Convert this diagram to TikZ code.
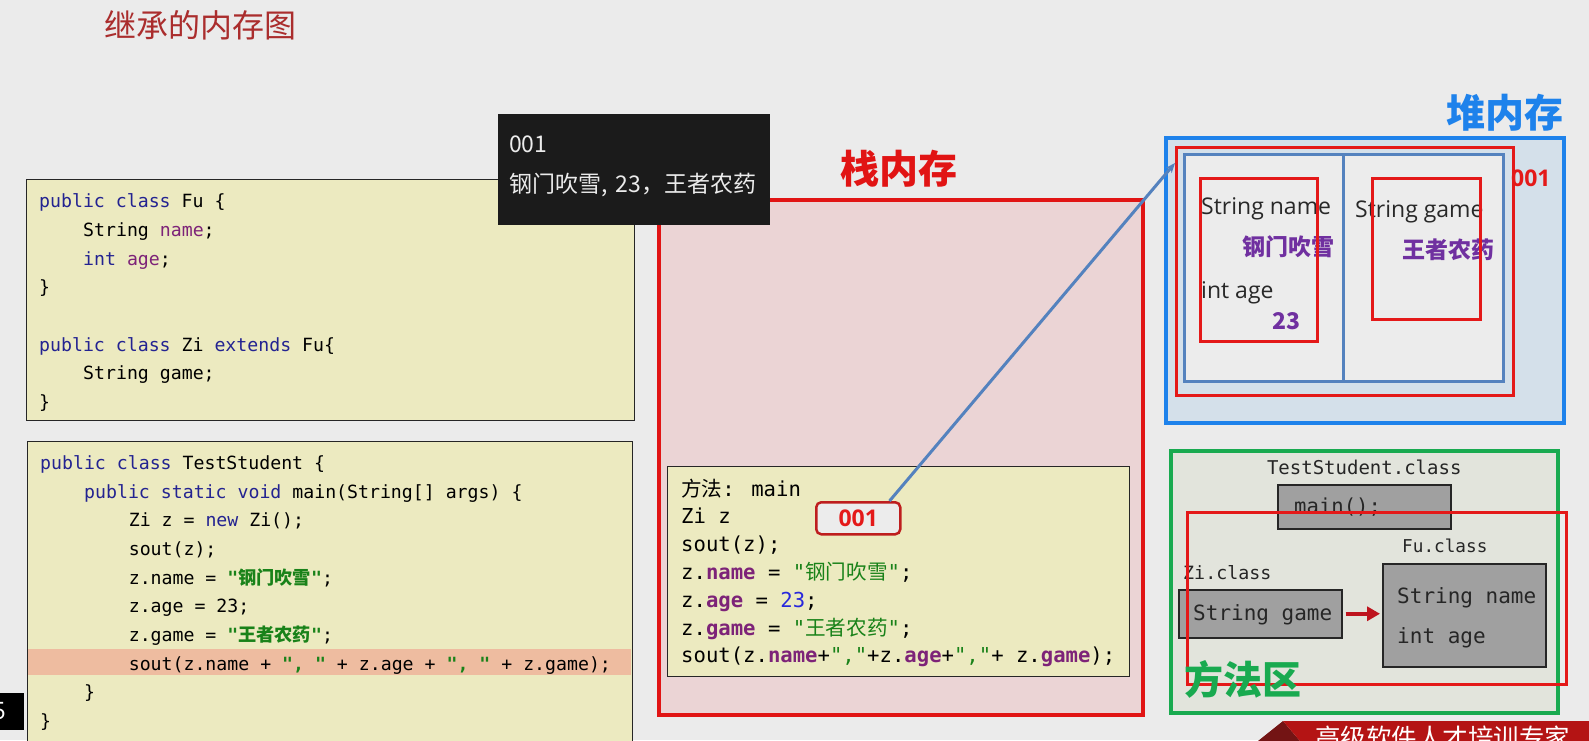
\documentclass[tikz,border=0pt]{standalone}
\usepackage{fontspec}
\usepackage{xcolor}
\usepackage{tikz}
\usetikzlibrary{
  positioning,
  arrows.meta,
  calc
}
\setmainfont{Open Sans}
\newfontfamily\cnfont{Noto Sans CJK SC}
\newfontfamily\codefont{DejaVu Sans Mono}
\newfontfamily\uifont{Open Sans}
\definecolor{pagebg}{RGB}{235,235,235}
\definecolor{codebg}{RGB}{236,234,192}
\definecolor{hlcolor}{RGB}{238,188,160}
\definecolor{kwblue}{RGB}{35,35,145}
\definecolor{fldpurple}{RGB}{125,35,120}
\definecolor{strgreen}{RGB}{25,130,25}
\definecolor{numblue}{RGB}{40,40,220}
\definecolor{titlered}{RGB}{170,45,45}
\definecolor{stackred}{RGB}{225,20,20}
\definecolor{stackbg}{RGB}{235,212,213}
\definecolor{heapblue}{RGB}{30,130,235}
\definecolor{heapbg}{RGB}{212,224,234}
\definecolor{steelblue}{RGB}{84,130,190}
\definecolor{fieldbg}{RGB}{236,236,236}
\definecolor{framered}{RGB}{228,25,25}
\definecolor{valpurple}{RGB}{112,48,160}
\definecolor{methodgreen}{RGB}{25,170,80}
\definecolor{methodbg}{RGB}{226,228,220}
\definecolor{classgray}{RGB}{160,160,160}
\definecolor{addrred}{RGB}{190,30,30}
\definecolor{addrbg}{RGB}{236,236,236}
\definecolor{arrowred}{RGB}{190,20,30}
\definecolor{tipbg}{RGB}{27,27,27}
\definecolor{tipfg}{RGB}{235,235,235}
\definecolor{textdark}{RGB}{40,40,40}
\definecolor{bannerred}{RGB}{180,20,20}
\definecolor{bannerdark}{RGB}{115,20,20}
\newcommand\kwd[1]{\textcolor{kwblue}{#1}}
\newcommand\fldn[1]{\textcolor{fldpurple}{#1}}
\newcommand\fldb[1]{\textcolor{fldpurple}{\bfseries #1}}
\newcommand\strg[1]{\textcolor{strgreen}{\bfseries #1}}
\tikzset{
  codebox/.style={
    draw=black!85, line width=1.2pt, fill=codebg,
    anchor=north west, inner sep=0pt
  },
  codeline/.style={
    anchor=mid west, inner sep=0pt,
    font=\codefont\fontsize{18.2}{22}\selectfont
  },
  stackline/.style={
    anchor=mid west, inner sep=0pt,
    font=\codefont\fontsize{20.6}{24}\selectfont
  },
  classline/.style={
    anchor=mid west, inner sep=0pt, text=black!85,
    font=\codefont\fontsize{21}{24}\selectfont
  },
  areatitle/.style={
    inner sep=0pt, font=\cnfont\bfseries\fontsize{39}{42}\selectfont
  },
  stackbox/.style={
    draw=stackred, line width=4pt, fill=stackbg,
    anchor=north west, inner sep=0pt
  },
  heapbox/.style={
    draw=heapblue, line width=4pt, fill=heapbg,
    anchor=north west, inner sep=0pt
  },
  methodbox/.style={
    draw=methodgreen, line width=4pt, fill=methodbg,
    anchor=north west, inner sep=0pt
  },
  redframe/.style={
    draw=framered, line width=3pt,
    anchor=north west, inner sep=0pt
  },
  fieldbox/.style={
    draw=steelblue, line width=3pt, fill=fieldbg,
    anchor=north west, inner sep=0pt
  },
  classbox/.style={
    draw=black!85, line width=1.5pt, fill=classgray,
    anchor=north west, inner sep=0pt
  },
  addrbox/.style={
    draw=addrred, line width=2.5pt, fill=addrbg, rounded corners=5pt,
    anchor=north west, minimum width=84pt, minimum height=32pt,
    font=\uifont\bfseries\fontsize{23}{26}\selectfont, text=framered
  },
  fieldtext/.style={
    anchor=mid west, inner sep=0pt, text=textdark,
    font=\uifont\fontsize{23}{26}\selectfont
  },
  valtext/.style={
    inner sep=0pt, text=valpurple,
    font=\cnfont\bfseries\fontsize{23}{26}\selectfont
  },
  tipbox/.style={
    fill=tipbg, anchor=north west, inner sep=0pt
  },
  tiptext/.style={
    anchor=west, inner sep=0pt, text=tipfg,
    font=\cnfont\fontsize{23}{26}\selectfont
  },
  refarrow/.style={
    -{Stealth[length=10pt,width=8pt]}, line width=3pt, draw=steelblue
  },
  inheritarrow/.style={
    -{Triangle[length=13pt,width=14pt]}, line width=4pt, draw=arrowred,
    shorten <=3pt, shorten >=2pt
  }
}
\begin{document}
\begin{tikzpicture}[x=1pt, y=-1pt]
  \useasboundingbox (0,0) rectangle (1589,740);
  \clip (0,0) rectangle (1589,740);
  \fill[pagebg] (0,0) rectangle (1589,740);

  % Title
  \node[text=titlered, inner sep=0pt, font=\cnfont\fontsize{32}{34}\selectfont] (title) at (200,25) {继承的内存图};

  % Class source
  \node[codebox, minimum width=608pt, minimum height=241pt] (fucode) at (26,179) {};
  \node[codeline] (fu1) at (39,205) {\kwd{public class} Fu \{};
  \node[codeline] (fu2) at (83,233.7) {String \fldn{name};};
  \node[codeline] (fu3) at (83,262.4) {\kwd{int} \fldn{age};};
  \node[codeline] (fu4) at (39,291.1) {\}};
  \node[codeline] (fu5) at (39,348.5) {\kwd{public class} Zi \kwd{extends} Fu\{};
  \node[codeline] (fu6) at (83,377.2) {String game;};
  \node[codeline] (fu7) at (39,405.9) {\}};

  % Test source
  \node[codebox, minimum width=605pt, minimum height=304pt] (testcode) at (27,441) {};
  \fill[hlcolor] (28,649) rectangle (631,675);
  \node[codeline] (ts1) at (40,467) {\kwd{public class} TestStudent \{};
  \node[codeline] (ts2) at (84,495.65) {\kwd{public static void} main(String[] args) \{};
  \node[codeline] (ts3) at (128.6,524.3) {Zi z = \kwd{new} Zi();};
  \node[codeline] (ts4) at (128.6,552.95) {sout(z);};
  \node[codeline] (ts5) at (128.6,581.6) {z.name = \strg{"{\cnfont 钢门吹雪}"};};
  \node[codeline] (ts6) at (128.6,610.25) {z.age = 23;};
  \node[codeline] (ts7) at (128.6,638.9) {z.game = \strg{"{\cnfont 王者农药}"};};
  \node[codeline] (ts8) at (128.6,667.55) {sout(z.name + \strg{", "} + z.age + \strg{", "} + z.game);};
  \node[codeline] (ts9) at (84,696.2) {\}};
  \node[codeline] (ts10) at (40,724.85) {\}};

  % Page number
  \node[fill=black, anchor=north west, inner sep=0pt, minimum width=24pt, minimum height=37pt] (pagebox) at (0,693) {};
  \node[anchor=east, inner sep=0pt, text=white, font=\uifont\fontsize{24}{26}\selectfont] (pagenum) at (6,711) {5};

  % Stack
  \node[stackbox, minimum width=484pt, minimum height=515pt] (stack) at (657,198) {};
  \node[areatitle, text=stackred] (stacklbl) at (899,169) {栈内存};
  \node[codebox, minimum width=462pt, minimum height=210pt] (mainframe) at (667,466) {};
  \node[stackline] (m1) at (681,493.5) {{\cnfont 方法}: main};
  \node[stackline] (m2) at (681,521.3) {Zi z};
  \node[stackline] (m3) at (681,549.1) {sout(z);};
  \node[stackline] (m4) at (681,576.9) {z.\fldb{name} = \textcolor{strgreen}{"{\cnfont 钢门吹雪}"};};
  \node[stackline] (m5) at (681,604.7) {z.\fldb{age} = \textcolor{numblue}{23};};
  \node[stackline] (m6) at (681,632.5) {z.\fldb{game} = \textcolor{strgreen}{"{\cnfont 王者农药}"};};
  \node[stackline] (m7) at (681,660.3) {sout(z.\fldb{name}+\textcolor{strgreen}{","}+z.\fldb{age}+\textcolor{strgreen}{","}+ z.\fldb{game});};
  \node[addrbox] (st001) at (815,501) {001};

  % Heap
  \node[heapbox, minimum width=398pt, minimum height=285pt] (heap) at (1164,136) {};
  \node[areatitle, text=heapblue] (heaplbl) at (1505,113) {堆内存};
  \node[fieldbox, minimum width=159pt, minimum height=227pt] (fieldL) at (1183,153) {};
  \node[fieldbox, minimum width=160pt, minimum height=227pt] (fieldR) at (1342,153) {};
  \node[redframe, minimum width=337pt, minimum height=248pt] (obj) at (1175,146) {};
  \node[anchor=west, inner sep=0pt, text=framered, font=\uifont\bfseries\fontsize{23}{26}\selectfont] (objaddr) at (1511,178) {001};
  \node[fieldtext] (hname) at (1201,212) {String name};
  \node[valtext] (hnameval) at (1288,247) {钢门吹雪};
  \node[fieldtext] (hage) at (1201,296) {int age};
  \node[valtext] (hageval) at (1286,321) {23};
  \node[fieldtext] (hgame) at (1355,215) {String game};
  \node[valtext] (hgameval) at (1448,250) {王者农药};
  \node[redframe, minimum width=117pt, minimum height=163pt] (parentpart) at (1199,177) {};
  \node[redframe, minimum width=108pt, minimum height=141pt] (childpart) at (1371,177) {};

  % Method area
  \node[methodbox, minimum width=387pt, minimum height=262pt] (method) at (1169,449) {};
  \node[classbox, minimum width=173pt, minimum height=44pt] (mainbox) at (1277,484) {};
  \node[classline, anchor=base, font=\codefont\fontsize{19}{22}\selectfont, above=9pt of mainbox] (testcls) {TestStudent.class};
  \node[classline, font=\codefont\fontsize{20.6}{24}\selectfont] (mainm) at (1294,511) {main();};
  \node[classline, font=\codefont\fontsize{18.3}{22}\selectfont] (zilbl) at (1183,577) {Zi.class};
  \node[classbox, minimum width=163pt, minimum height=48pt] (zicls) at (1178,589) {};
  \node[classline] (zigame) at (1193,618) {String game};
  \node[classline, font=\codefont\fontsize{17.7}{22}\selectfont] (fulbl) at (1402,550) {Fu.class};
  \node[classbox, minimum width=163pt, minimum height=103pt] (fucls) at (1382,563) {};
  \node[classline] (funame) at (1397,601) {String name};
  \node[classline] (fuage) at (1397,641) {int age};
  \draw[inheritarrow] (zicls.east) -- (zicls.east -| fucls.west);
  \node[redframe, minimum width=379pt, minimum height=172pt] (loaded) at (1186,511) {};
  \node[areatitle, text=methodgreen] (methodlbl) at (1243,679) {方法区};

  % Reference arrow
  \draw[refarrow] ([xshift=-12pt]st001.north east) -- ([xshift=-8pt,yshift=-10pt]fieldL.north west);

  % Tooltip
  \node[tipbox, minimum width=272pt, minimum height=111pt] (tip) at (498,114) {};
  \node[tiptext] (tip1) at (509,144) {001};
  \node[tiptext] (tip2) at (509,185) {钢门吹雪,\hspace{8pt}23，王者农药};

  % Banner
  \fill[bannerdark] (1258,741) -- (1283,721) -- (1300,741) -- cycle;
  \fill[bannerred] (1283,721) -- (1589,721) -- (1589,741) -- (1300,741) -- cycle;
  \node[anchor=west, inner sep=0pt, text=white, font=\cnfont\fontsize{25.5}{28}\selectfont] (banner) at (1315,738) {高级软件人才培训专家};
\end{tikzpicture}
\end{document}
